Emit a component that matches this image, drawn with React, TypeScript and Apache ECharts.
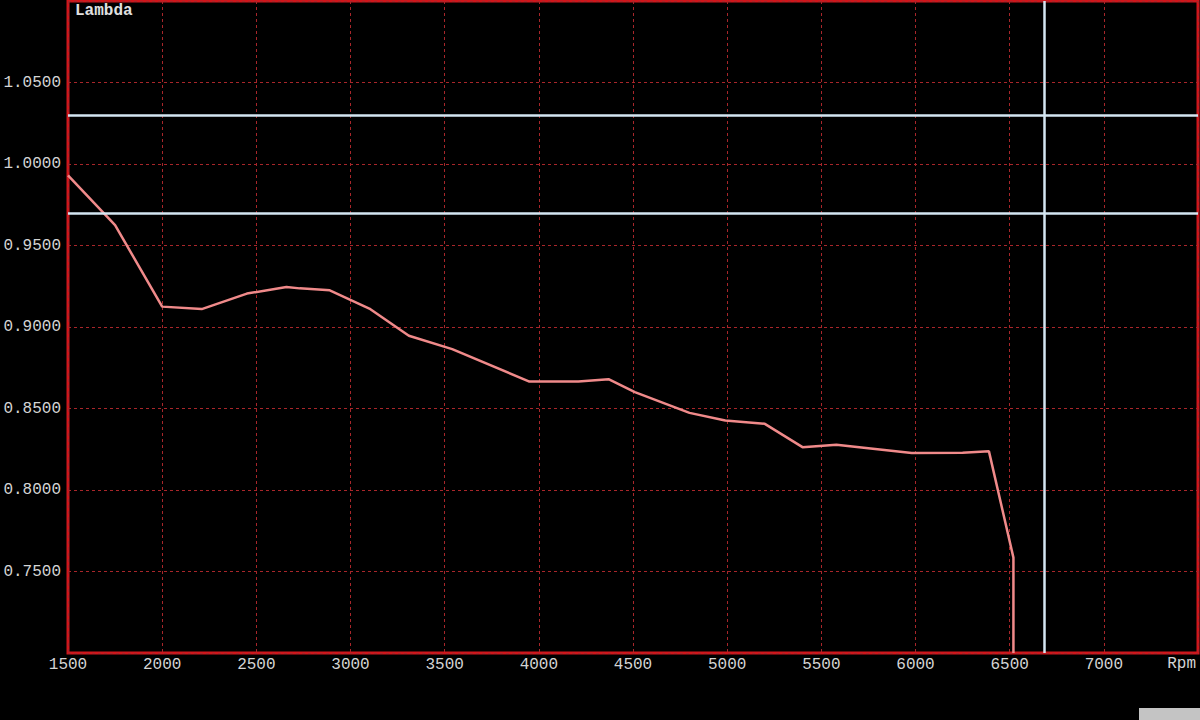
import React, { useEffect, useRef } from "react";
import * as echarts from "echarts";

const rpm = [1500, 1750, 2000, 2210, 2450, 2660, 2730, 2890, 3100, 3310, 3540, 3950, 4210, 4370, 4510, 4800, 4990, 5200, 5400, 5580, 5980, 6250, 6390, 6520, 6520];
const lambda = [0.993, 0.9625, 0.9125, 0.911, 0.9205, 0.9245, 0.9237, 0.9225, 0.9113, 0.8946, 0.8864, 0.8665, 0.8665, 0.868, 0.86, 0.8473, 0.8426, 0.8406, 0.8263, 0.8277, 0.8227, 0.8229, 0.8237, 0.7585, 0.7];
const limitLines = [1.03, 0.97];
const cursorRpm = 6685;
const xRange = [1500, 7500];
const yRange = [0.7, 1.1];
const yAxisTitle = "Lambda";
const xAxisTitle = "Rpm";

export default function App() {
  const ref = useRef<HTMLDivElement>(null);
  useEffect(() => {
    if (!ref.current) return;
    const chart = echarts.init(ref.current, null, { renderer: "svg" });
    const font = "'Liberation Mono', 'DejaVu Sans Mono', monospace";
    const gridColor = "#a8262a";
    chart.setOption({
      animation: false,
      backgroundColor: "#000000",
      grid: {
        left: 68,
        top: 1,
        right: 2,
        bottom: 67,
        show: true,
        borderColor: "#d0161c",
        borderWidth: 3,
        backgroundColor: "transparent",
      },
      xAxis: {
        type: "value",
        min: xRange[0],
        max: xRange[1],
        interval: 500,
        axisLine: { show: false },
        axisTick: { show: false },
        axisLabel: {
          color: "#d4d4d4",
          fontFamily: font,
          fontSize: 16,
          margin: 4,
          showMaxLabel: false,
          formatter: (v: number) => (v >= xRange[1] ? "" : String(v)),
        },
        splitLine: { show: true, lineStyle: { color: gridColor, type: [3, 3], width: 1 } },
      },
      yAxis: {
        type: "value",
        min: yRange[0],
        max: yRange[1],
        interval: 0.05,
        axisLine: { show: false },
        axisTick: { show: false },
        axisLabel: {
          color: "#d4d4d4",
          fontFamily: font,
          fontSize: 16,
          margin: 7,
          showMinLabel: false,
          showMaxLabel: false,
          formatter: (v: number) => v.toFixed(4),
        },
        splitLine: { show: true, lineStyle: { color: gridColor, type: [3, 3], width: 1 } },
      },
      graphic: [
        {
          type: "text",
          left: 75,
          top: 3,
          style: { text: yAxisTitle, fill: "#e0e0e0", font: `bold 16px ${font}` },
        },
        {
          type: "text",
          right: 4,
          top: 656,
          style: { text: xAxisTitle, fill: "#d4d4d4", font: `16px ${font}` },
        },
        {
          type: "rect",
          shape: { x: 1139, y: 708, width: 61, height: 12 },
          style: { fill: "#c4c4c4" },
        },
      ],
      series: [
        {
          type: "line",
          data: rpm.map((r, i) => [r, lambda[i]]),
          symbol: "none",
          lineStyle: { color: "#f08a8a", width: 2.5 },
          markLine: {
            silent: true,
            symbol: "none",
            label: { show: false },
            lineStyle: { color: "#d4e6f2", width: 2.5, type: "solid" },
            data: [
              ...limitLines.map((y) => ({ yAxis: y })),
              { xAxis: cursorRpm },
            ],
          },
        },
      ],
    });
    return () => chart.dispose();
  }, []);
  return (
    <div
      ref={ref}
      style={{ position: "fixed", left: 0, top: 0, width: 1200, height: 720, background: "#000" }}
    />
  );
}
